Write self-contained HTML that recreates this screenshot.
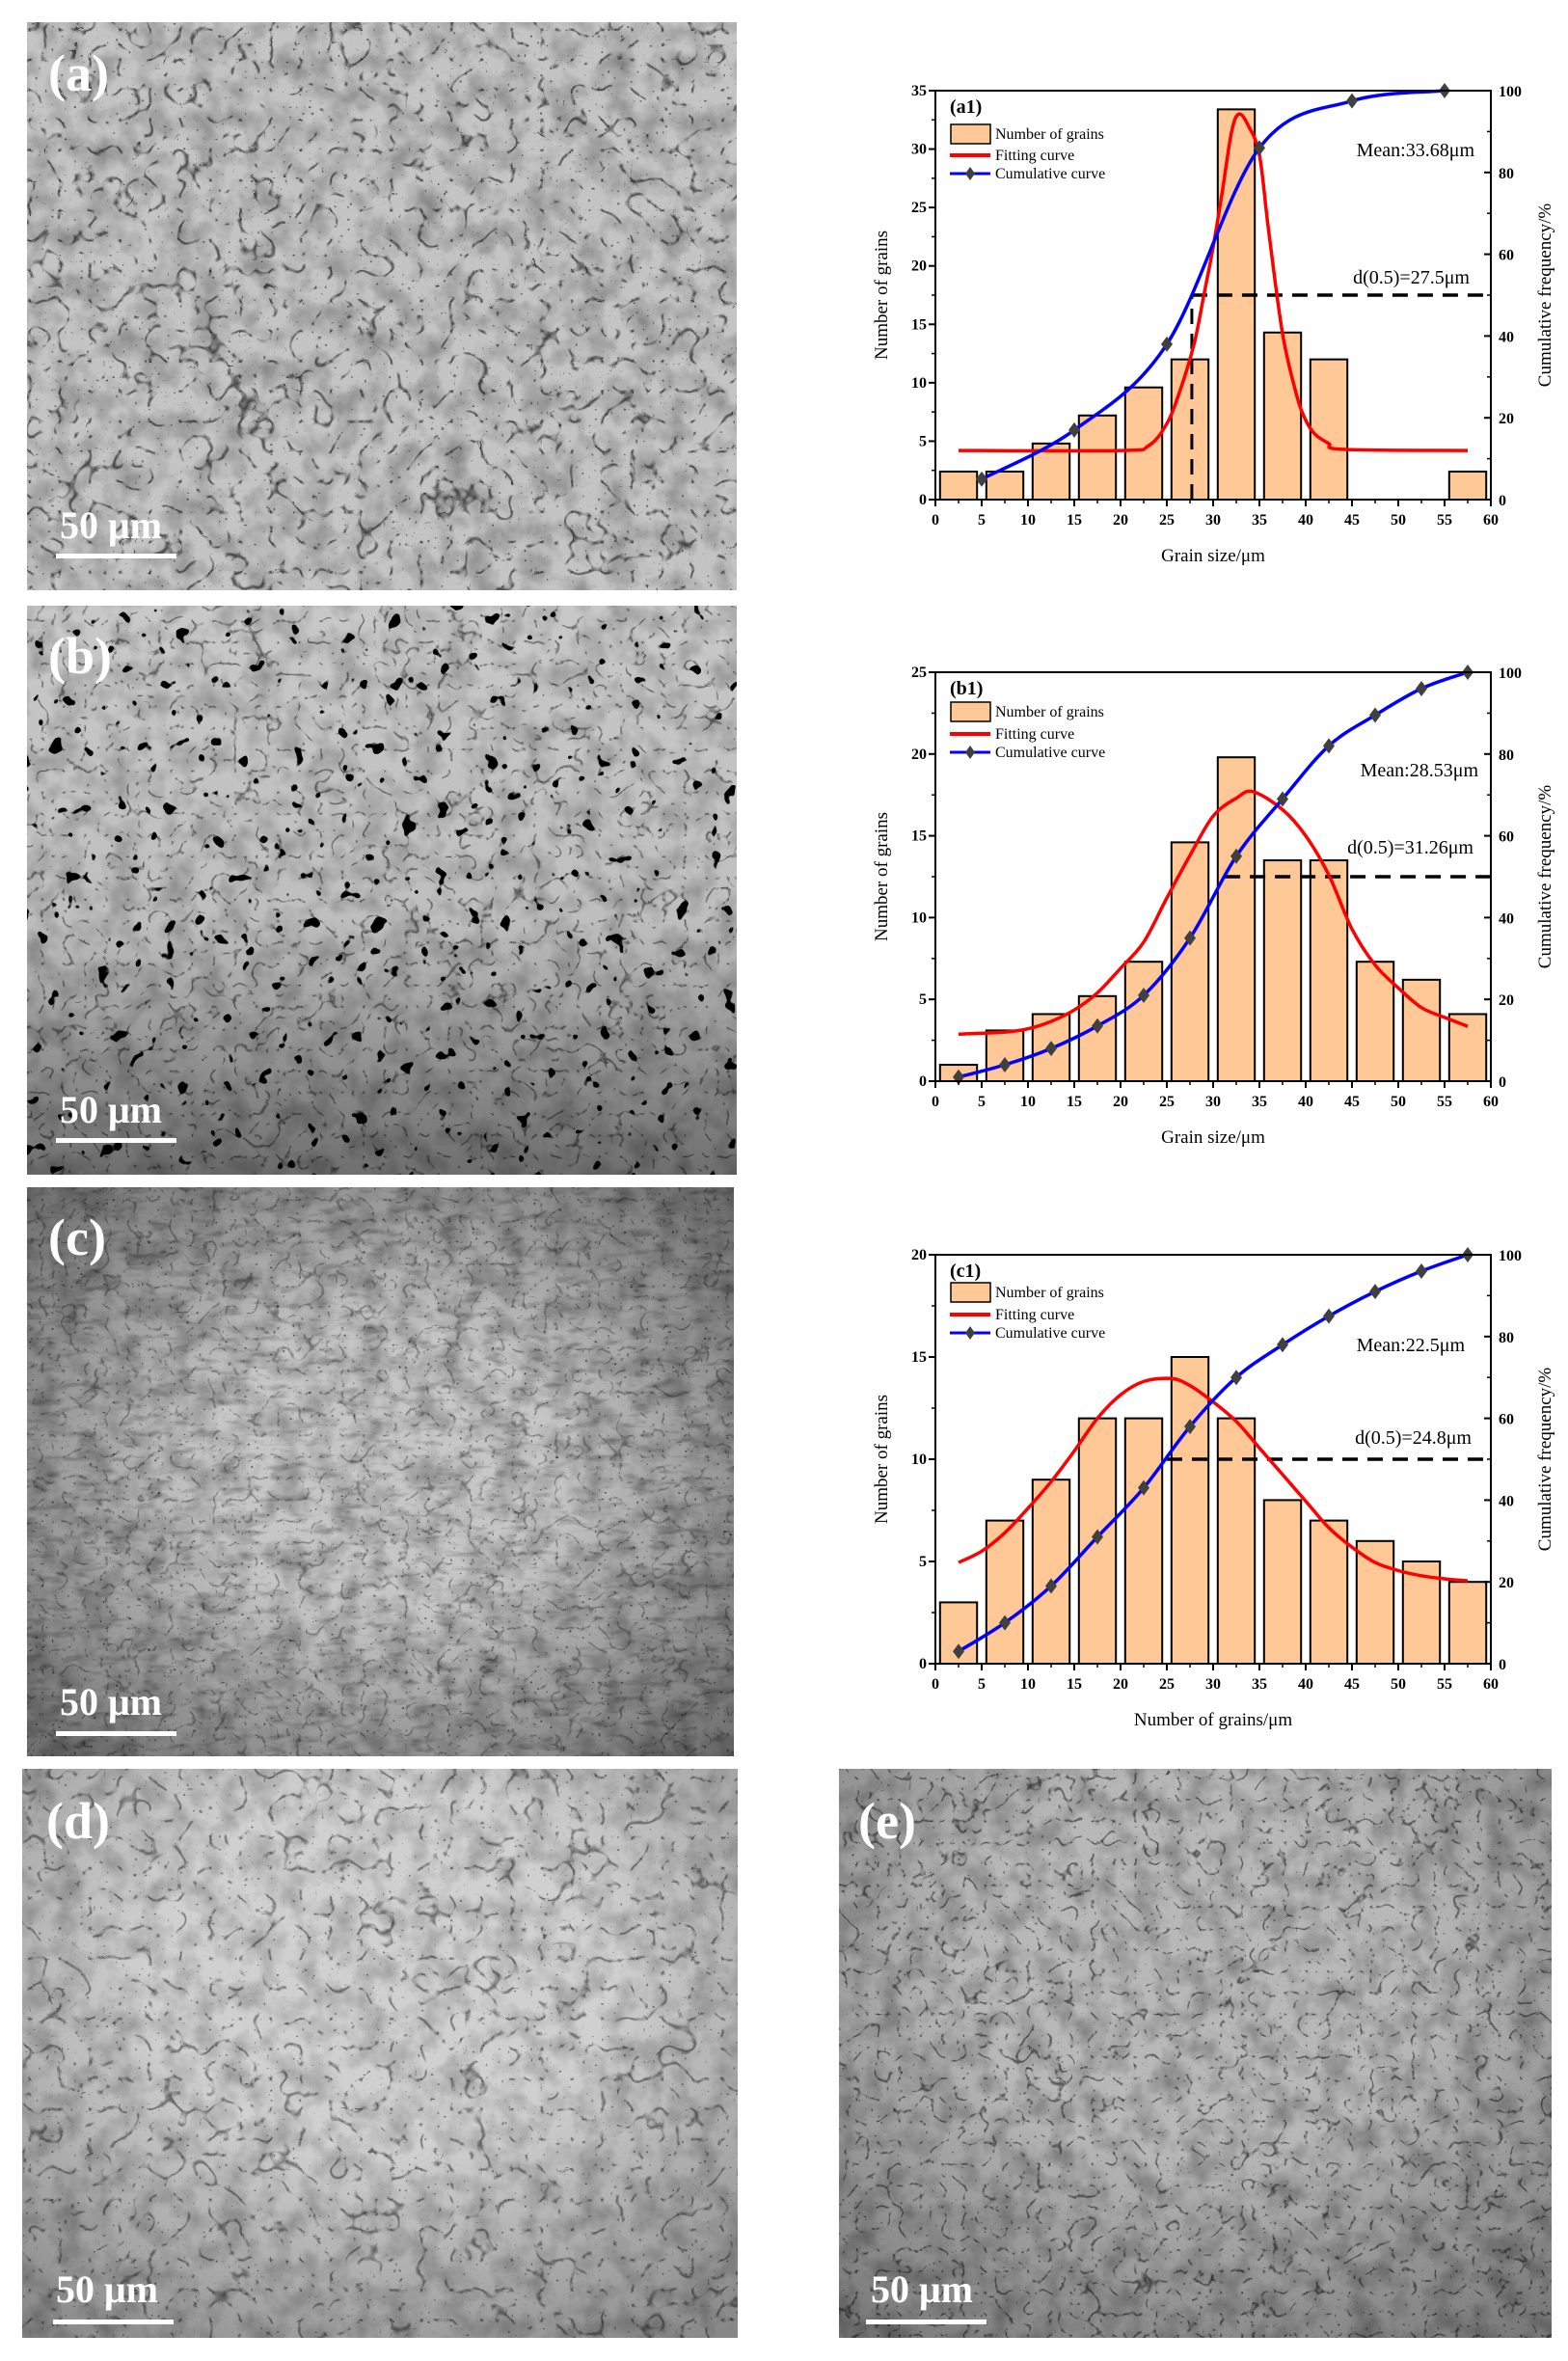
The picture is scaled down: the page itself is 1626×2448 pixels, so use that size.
<!DOCTYPE html>
<html><head><meta charset="utf-8">
<style>
html,body{margin:0;padding:0;background:#fff;}
#root{position:relative;width:1626px;height:2448px;overflow:hidden;}
svg text{font-family:"Liberation Serif",serif;}
</style></head>
<body>
<div id="root">
<svg id="fig" width="1626" height="2448" viewBox="0 0 1626 2448" xmlns="http://www.w3.org/2000/svg">
<defs>
  <filter id="mottle" x="0" y="0" width="100%" height="100%">
    <feTurbulence type="fractalNoise" baseFrequency="0.035" numOctaves="3" seed="3"/>
    <feColorMatrix type="matrix" values="0 0 0 0 0  0 0 0 0 0  0 0 0 0 0  -1.6 0 0 0 1.0"/>
  </filter>
  <filter id="bound" x="0" y="0" width="100%" height="100%">
    <feTurbulence type="turbulence" baseFrequency="0.032" numOctaves="2" seed="7"/>
    <feColorMatrix type="matrix" values="0 0 0 0 0  0 0 0 0 0  0 0 0 0 0  -11 0 0 0 1.1"/>
  </filter>
  <filter id="bound2" x="0" y="0" width="100%" height="100%">
    <feTurbulence type="turbulence" baseFrequency="0.045" numOctaves="2" seed="11"/>
    <feColorMatrix type="matrix" values="0 0 0 0 0  0 0 0 0 0  0 0 0 0 0  -11 0 0 0 1.1"/>
  </filter>
  <filter id="dots" x="0" y="0" width="100%" height="100%">
    <feTurbulence type="fractalNoise" baseFrequency="0.3" numOctaves="1" seed="5"/>
    <feColorMatrix type="matrix" values="0 0 0 0 0  0 0 0 0 0  0 0 0 0 0  -12 0 0 0 3.6"/>
  </filter>
  <filter id="blobs" x="0" y="0" width="100%" height="100%">
    <feTurbulence type="fractalNoise" baseFrequency="0.06" numOctaves="2" seed="9"/>
    <feColorMatrix type="matrix" values="0 0 0 0 0  0 0 0 0 0  0 0 0 0 0  -30 0 0 0 9.2"/>
  </filter>
  <filter id="streak" x="0" y="0" width="100%" height="100%">
    <feTurbulence type="fractalNoise" baseFrequency="0.04 0.12" numOctaves="3" seed="4"/>
    <feColorMatrix type="matrix" values="0 0 0 0 0  0 0 0 0 0  0 0 0 0 0  -2.5 0 0 0 1.2"/>
  </filter>
  <linearGradient id="gradB" x1="0" y1="0" x2="0" y2="1">
    <stop offset="0" stop-color="#000" stop-opacity="0"/>
    <stop offset="0.55" stop-color="#000" stop-opacity="0.05"/>
    <stop offset="1" stop-color="#000" stop-opacity="0.45"/>
  </linearGradient>
  <radialGradient id="gradC" cx="0.5" cy="0.5" r="0.7">
    <stop offset="0.35" stop-color="#000" stop-opacity="0"/>
    <stop offset="1" stop-color="#000" stop-opacity="0.45"/>
  </radialGradient>
  <radialGradient id="gradD" cx="0.5" cy="0.35" r="0.8">
    <stop offset="0.4" stop-color="#000" stop-opacity="0"/>
    <stop offset="1" stop-color="#000" stop-opacity="0.35"/>
  </radialGradient>
</defs>

<!-- Photo a -->
<g>
  <rect x="28" y="23" width="736" height="589" fill="#c4c4c4"/>
  <rect x="28" y="23" width="736" height="589" filter="url(#mottle)" opacity="0.35"/>
  <rect x="28" y="23" width="736" height="589" filter="url(#bound)" opacity="0.6"/>
  <rect x="28" y="23" width="736" height="589" filter="url(#dots)" opacity="0.5"/>
  <text x="50" y="94" font-size="54" font-weight="bold" fill="#fff">(a)</text>
  <text x="62" y="558" font-size="40" font-weight="bold" fill="#fff">50 μm</text>
  <rect x="58" y="574" width="125" height="5" fill="#fff"/>
</g>
<!-- Photo b -->
<g>
  <rect x="28" y="628" width="736" height="590" fill="#c8c8c8"/>
  <rect x="28" y="628" width="736" height="590" filter="url(#mottle)" opacity="0.3"/>
  <rect x="28" y="628" width="736" height="590" filter="url(#bound2)" opacity="0.5"/>
  <rect x="28" y="628" width="736" height="590" filter="url(#blobs)" opacity="1"/>
  <rect x="28" y="628" width="736" height="590" fill="url(#gradB)"/>
  <text x="50" y="698" font-size="54" font-weight="bold" fill="#fff">(b)</text>
  <text x="62" y="1164" font-size="40" font-weight="bold" fill="#fff">50 μm</text>
  <rect x="58" y="1180" width="125" height="5" fill="#fff"/>
</g>
<!-- Photo c -->
<g>
  <rect x="28" y="1231" width="733" height="590" fill="#c6c6c6"/>
  <rect x="28" y="1231" width="733" height="590" filter="url(#mottle)" opacity="0.35"/>
  <rect x="28" y="1231" width="733" height="590" filter="url(#streak)" opacity="0.3"/>
  <rect x="28" y="1231" width="733" height="590" filter="url(#bound2)" opacity="0.35"/>
  <rect x="28" y="1231" width="733" height="590" filter="url(#dots)" opacity="0.5"/>
  <rect x="28" y="1231" width="733" height="590" fill="url(#gradC)"/>
  <text x="50" y="1301" font-size="54" font-weight="bold" fill="#fff">(c)</text>
  <text x="62" y="1778" font-size="40" font-weight="bold" fill="#fff">50 μm</text>
  <rect x="58" y="1795" width="125" height="5" fill="#fff"/>
</g>
<!-- Photo d -->
<g>
  <rect x="23" y="1834" width="742" height="590" fill="#d0d0d0"/>
  <rect x="23" y="1834" width="742" height="590" filter="url(#mottle)" opacity="0.3"/>
  <rect x="23" y="1834" width="742" height="590" filter="url(#bound)" opacity="0.45"/>
  <rect x="23" y="1834" width="742" height="590" filter="url(#dots)" opacity="0.4"/>
  <rect x="23" y="1834" width="742" height="590" fill="url(#gradD)"/>
  <text x="48" y="1906" font-size="54" font-weight="bold" fill="#fff">(d)</text>
  <text x="58" y="2387" font-size="40" font-weight="bold" fill="#fff">50 μm</text>
  <rect x="55" y="2405" width="125" height="5" fill="#fff"/>
</g>
<!-- Photo e -->
<g>
  <rect x="870" y="1834" width="739" height="590" fill="#b8b8b8"/>
  <rect x="870" y="1834" width="739" height="590" filter="url(#mottle)" opacity="0.35"/>
  <rect x="870" y="1834" width="739" height="590" filter="url(#bound2)" opacity="0.55"/>
  <rect x="870" y="1834" width="739" height="590" filter="url(#dots)" opacity="0.4"/>
  <rect x="870" y="1834" width="739" height="590" fill="url(#gradD)"/>
  <text x="890" y="1906" font-size="54" font-weight="bold" fill="#fff">(e)</text>
  <text x="903" y="2387" font-size="40" font-weight="bold" fill="#fff">50 μm</text>
  <rect x="898" y="2405" width="125" height="5" fill="#fff"/>
</g>
<g id="charts"></g>
</svg>
</div>
<script>
// ---- shared ----
const binCenters = [2.5,7.5,12.5,17.5,22.5,27.5,32.5,37.5,42.5,47.5,52.5,57.5];
const xTicks = [0,5,10,15,20,25,30,35,40,45,50,55,60];
const rightTicks = [0,20,40,60,80,100];
// ---- chart a1 ----
const countsA = [2.4,2.4,4.8,7.2,9.6,12,33.4,14.3,12,0,0,2.4];
const cumXA = [5,15,25,35,45,55];
const cumYA = [5,17,38,86,97.5,100];
const fitXA = [2.5,20,23,25,26.5,28,29,30,31,32,32.8,33.8,35,36,37.5,39,40,41,42.5,44,57.5];
const fitYA = [4.2,4.2,4.6,6.5,9.5,13.5,17.5,21.6,26.4,31.5,33,32,29.5,23,14.2,9,6.8,5.6,4.8,4.3,4.2];
const leftTicksA = [0,5,10,15,20,25,30,35];
const d50A = 27.7;
// ---- chart b1 ----
const countsB = [1,3.1,4.1,5.2,7.3,14.6,19.8,13.5,13.5,7.3,6.2,4.1];
const cumYB = [1,4,8,13.5,21,35,55,69,82,89.5,96,100];
const fitXB = [2.5,7.5,10,12.5,15,17.5,20,22.5,25,27.5,30,32.5,34.3,37.5,40,42.5,45,47.5,50,52.5,55,57.5];
const fitYB = [2.88,3.0,3.2,3.65,4.35,5.4,6.9,8.5,11.2,13.8,16.2,17.3,17.7,16.6,15,12.6,9.3,7.1,5.7,4.5,3.9,3.35];
const leftTicksB = [0,5,10,15,20,25];
const d50B = 31.26;
// ---- chart c1 ----
const countsC = [3,7,9,12,12,15,12,8,7,6,5,4];
const cumYC = [3,10,19,31,43,58,70,78,85,91,96,100];
const fitXC = [2.5,5,7.5,10,12.5,15,17.5,20,22.5,25.5,27.5,30,32.5,35,37.5,40,42.5,45,47.5,50,52.5,55,57.5];
const fitYC = [4.95,5.5,6.4,7.6,8.9,10.4,12.0,13.15,13.8,13.95,13.6,12.8,11.85,10.55,9.25,7.95,6.65,5.7,4.95,4.55,4.3,4.15,4.05];
const leftTicksC = [0,5,10,15,20];
const d50C = 25;

const NS = "http://www.w3.org/2000/svg";
const root = document.getElementById('charts');
function mk(tag, attrs, parent){const e=document.createElementNS(NS,tag);for(const k in attrs)e.setAttribute(k,attrs[k]);(parent||root).appendChild(e);return e;}
function smooth(pts){
  let d='M'+pts[0][0].toFixed(1)+','+pts[0][1].toFixed(1);
  for(let i=0;i<pts.length-1;i++){
    const p0=pts[i-1]||pts[i],p1=pts[i],p2=pts[i+1],p3=pts[i+2]||p2;
    const c1=[p1[0]+(p2[0]-p0[0])/6,p1[1]+(p2[1]-p0[1])/6];
    const c2=[p2[0]-(p3[0]-p1[0])/6,p2[1]-(p3[1]-p1[1])/6];
    d+=' C'+c1[0].toFixed(1)+','+c1[1].toFixed(1)+' '+c2[0].toFixed(1)+','+c2[1].toFixed(1)+' '+p2[0].toFixed(1)+','+p2[1].toFixed(1);
  }
  return d;
}
function chart(cfg){
  const L=970,R=1546,T=cfg.top,B=cfg.bottom,H=B-T;
  const xs=v=>L+v/60*(R-L), yl=v=>B-v/cfg.ymax*H, yr=p=>B-p/100*H;
  const g=mk('g',{});
  
  
  cfg.counts.forEach((c,i)=>{
    if(c<=0)return;
    const b=mk('rect',{x:xs(binCenters[i]-2),y:yl(c),width:xs(4)-xs(0),height:B-yl(c),fill:'#FFC896',stroke:'#000','stroke-width':2},g);
    
    
  });
  const dh=mk('line',{x1:xs(cfg.d50),y1:yr(50),x2:R,y2:yr(50),stroke:'#000','stroke-width':3.5,'stroke-dasharray':'16,10'},g);
  
  
  if(cfg.vert){
    const dv=mk('line',{x1:xs(cfg.d50),y1:B,x2:xs(cfg.d50),y2:yr(50),stroke:'#000','stroke-width':3,'stroke-dasharray':'16,10'},g);
    
    
  }
  const fp=cfg.fitX.map((x,i)=>[xs(x),yl(cfg.fitY[i])]);
  const fit=mk('path',{d:smooth(fp),fill:'none',stroke:'#FF0000','stroke-width':3.5},g);
  
  
  const cp=cfg.cumX.map((x,i)=>[xs(x),yr(cfg.cumY[i])]);
  const cum=mk('path',{d:smooth(cp),fill:'none',stroke:'#0000FF','stroke-width':3.5},g);
  
  
  cp.forEach(p=>{
    const m=mk('path',{d:`M${p[0]},${p[1]-8} L${p[0]+6},${p[1]} L${p[0]},${p[1]+8} L${p[0]-6},${p[1]} Z`,fill:'#404040'},g);
    
    
  });
  const fr=mk('rect',{x:L,y:T,width:R-L,height:H,fill:'none',stroke:'#000','stroke-width':2},g);
  
  
  cfg.leftTicks.forEach(v=>{
    mk('line',{x1:L-7,y1:yl(v),x2:L,y2:yl(v),stroke:'#000','stroke-width':2},g);
    if(v<cfg.ymax) mk('line',{x1:L-4,y1:yl(v+2.5),x2:L,y2:yl(v+2.5),stroke:'#000','stroke-width':1.5},g);
    const t=mk('text',{x:L-9,y:yl(v)+5,'font-size':16,'font-weight':'bold','text-anchor':'end'},g);
    t.textContent=v;
    
    
  });
  xTicks.forEach(v=>{
    mk('line',{x1:xs(v),y1:B,x2:xs(v),y2:B+7,stroke:'#000','stroke-width':2},g);
    if(v<60) mk('line',{x1:xs(v+2.5),y1:B,x2:xs(v+2.5),y2:B+4,stroke:'#000','stroke-width':1.5},g);
    const t=mk('text',{x:xs(v),y:B+26,'font-size':16,'font-weight':'bold','text-anchor':'middle'},g);
    t.textContent=v;
    
    
  });
  rightTicks.forEach(v=>{
    mk('line',{x1:R-7,y1:yr(v),x2:R,y2:yr(v),stroke:'#000','stroke-width':2},g);
    if(v<100) mk('line',{x1:R-4,y1:yr(v+10),x2:R,y2:yr(v+10),stroke:'#000','stroke-width':1.5},g);
    const t=mk('text',{x:R+8,y:yr(v)+6,'font-size':16,'font-weight':'bold'},g);
    t.textContent=v;
    
    
  });
  const xt=mk('text',{x:(L+R)/2,y:B+64,'font-size':19,'text-anchor':'middle'},g);
  xt.textContent=cfg.xTitle;
  
  
  const yt=mk('text',{x:0,y:0,'font-size':19,'text-anchor':'middle',transform:`translate(920,${(T+B)/2}) rotate(-90)`},g);
  yt.textContent='Number of grains';
  
  
  const rt=mk('text',{x:0,y:0,'font-size':19,'text-anchor':'middle',transform:`translate(1608,${(T+B)/2}) rotate(-90)`},g);
  rt.textContent='Cumulative frequency/%';
  
  
  const pl=mk('text',{x:985,y:T+23,'font-size':20,'font-weight':'bold'},g);
  pl.textContent=cfg.label;
  
  
  const lg=mk('g',{},g);
  
  
  const r1=T+cfg.leg[0], r2=T+cfg.leg[1], r3=T+cfg.leg[2];
  mk('rect',{x:986,y:r1-10,width:41,height:20,fill:'#FFC896',stroke:'#000','stroke-width':1.5},lg);
  mk('line',{x1:985,y1:r2,x2:1027,y2:r2,stroke:'#FF0000','stroke-width':4},lg);
  mk('line',{x1:985,y1:r3,x2:1027,y2:r3,stroke:'#0000FF','stroke-width':3},lg);
  mk('path',{d:`M1006,${r3-7} L1011,${r3} L1006,${r3+7} L1001,${r3} Z`,fill:'#404040'},lg);
  [['Number of grains',r1],['Fitting curve',r2],['Cumulative curve',r3]].forEach(([s,y])=>{
    const t=mk('text',{x:1032,y:y+5,'font-size':16},lg);
    t.textContent=s;
    
    
  });
  const mt=mk('text',{x:cfg.meanX,y:T+cfg.meanY,'font-size':20,'text-anchor':'end'},g);
  mt.textContent=cfg.mean;
  
  
  const dt=mk('text',{x:cfg.dX,y:T+cfg.dY,'font-size':20,'text-anchor':'end'},g);
  dt.textContent=cfg.dText;
  
  
}
chart({name:'chart-a1',top:94,bottom:518,ymax:35,counts:countsA,cumX:cumXA,cumY:cumYA,fitX:fitXA,fitY:fitYA,leftTicks:leftTicksA,d50:d50A,vert:true,
  xTitle:'Grain size/μm',label:'(a1)',leg:[45,67,86],mean:'Mean:33.68μm',meanX:1529,meanY:68,dText:'d(0.5)=27.5μm',dX:1524,dY:200});
chart({name:'chart-b1',top:697,bottom:1121,ymax:25,counts:countsB,cumX:binCenters,cumY:cumYB,fitX:fitXB,fitY:fitYB,leftTicks:leftTicksB,d50:d50B,vert:false,
  xTitle:'Grain size/μm',label:'(b1)',leg:[41,64,83],mean:'Mean:28.53μm',meanX:1533,meanY:108,dText:'d(0.5)=31.26μm',dX:1528,dY:188});
chart({name:'chart-c1',top:1301,bottom:1725,ymax:20,counts:countsC,cumX:binCenters,cumY:cumYC,fitX:fitXC,fitY:fitYC,leftTicks:leftTicksC,d50:d50C,vert:false,
  xTitle:'Number of grains/μm',label:'(c1)',leg:[39,62,81],mean:'Mean:22.5μm',meanX:1519,meanY:100,dText:'d(0.5)=24.8μm',dX:1526,dY:196});
</script>
</body></html>
